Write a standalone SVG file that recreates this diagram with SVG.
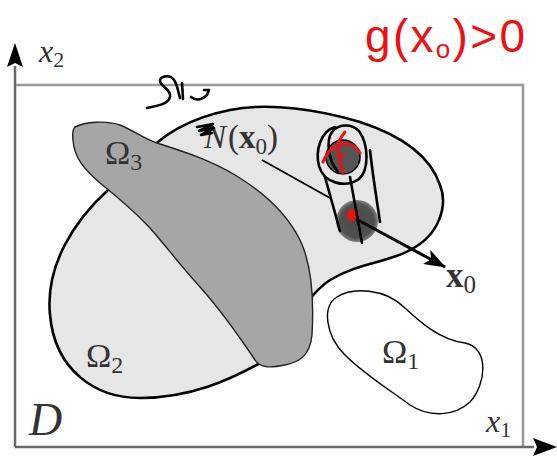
<svg xmlns="http://www.w3.org/2000/svg" width="557" height="458" viewBox="0 0 557 458">
<defs>
<style>
.axis{stroke:#6a6a6a;stroke-width:2.5;fill:none}
.frame{stroke:#9a9a9a;stroke-width:2.5;fill:none}
.lbl{font-family:"Liberation Serif",serif;fill:#333}
.ink{fill:none;stroke:#000;stroke-width:2.6;stroke-linecap:round;stroke-linejoin:round}
.red{fill:none;stroke:#ee1111;stroke-width:3;stroke-linecap:round;stroke-linejoin:round}
</style>
<radialGradient id="nb" cx="0.5" cy="0.5" r="0.5">
<stop offset="0" stop-color="#4a4a4a"/>
<stop offset="0.8" stop-color="#505050"/>
<stop offset="1" stop-color="#666" stop-opacity="0.8"/>
</radialGradient>
<marker id="ah" viewBox="0 0 22 16" refX="21" refY="8" markerWidth="22" markerHeight="16" markerUnits="userSpaceOnUse" orient="auto">
<path d="M0,0 L22,8 L0,16 L5,8 Z" fill="#000"/>
</marker>
</defs>
<rect width="557" height="458" fill="#fff"/>

<g id="frame">
<path class="frame" d="M15,85 H523 V447"/>
</g>
<g id="axes">
<path class="axis" d="M15,447 V66"/>
<path class="axis" d="M15,447 H534"/>
<path d="M15,43 L23,67 L15,63 L7,67 Z" fill="#000"/>
<path d="M557,447 L533,438 L537,447 L533,456 Z" fill="#000"/>
<text class="lbl" x="39" y="62" font-size="32" font-style="italic">x<tspan font-size="22" font-style="normal" dy="5">2</tspan></text>
<text class="lbl" x="486" y="432" font-size="32" font-style="italic">x<tspan font-size="22" font-style="normal" dy="5">1</tspan></text>
<text class="lbl" x="29" y="435" font-size="46" font-style="italic" fill="#111">D</text>
</g>

<g id="omega2">
<path d="M108,190 C75,220 45,265 50,315 C55,370 95,398 140,398 C190,398 230,380 262,362 C285,345 300,300 330,280 C360,262 390,262 410,250 C440,235 448,205 440,185 C430,155 400,135 360,122 C320,110 270,102 230,110 C190,118 160,135 140,160 C125,175 115,182 108,190 Z" fill="#e6e6e6" stroke="#000" stroke-width="2.6"/>
<text class="lbl" x="86" y="367" font-size="34">Ω<tspan font-size="24" dy="6">2</tspan></text>
</g>

<g id="omega3">
<path d="M75,127 C85,122 105,120 120,125 C135,131 145,140 160,144 C185,152 210,160 235,175 C260,190 285,210 300,240 C312,265 314,300 312,335 C310,355 300,362 285,365 C270,368 260,368 255,360 C245,345 225,315 200,287 C180,265 165,245 150,228 C135,212 115,195 100,183 C85,170 74,158 73,140 C72,132 73,129 75,127 Z" fill="#a6a6a6" stroke="#222" stroke-width="1.4"/>
<text class="lbl" x="105" y="164" font-size="34">Ω<tspan font-size="24" dy="6">3</tspan></text>
</g>

<g id="omega1">
<path d="M337,297 C352,287 385,288 405,308 C420,322 440,340 465,343 C490,348 486,385 470,402 C455,416 430,418 410,405 C390,390 365,375 345,355 C325,335 322,306 337,297 Z" fill="#fff" stroke="#000" stroke-width="1.4"/>
<text class="lbl" x="382" y="363" font-size="34">Ω<tspan font-size="24" dy="6">1</tspan></text>
</g>

<g id="neighborhood">
<text class="lbl" x="204" y="148" font-size="33" fill="#555"><tspan font-style="italic">N</tspan><tspan dx="2">(</tspan><tspan font-weight="bold">x</tspan><tspan font-size="23" dy="6">0</tspan><tspan dy="-6">)</tspan></text>
<circle cx="357" cy="221" r="21" fill="url(#nb)"/>
<circle cx="353" cy="215" r="6" fill="#ee1111"/>
</g>

<g id="x0">
<text class="lbl" x="446" y="287" font-size="35" font-weight="bold" fill="#111">x<tspan font-size="25" font-weight="normal" dy="6">0</tspan></text>
</g>

<g id="connectors">
<path d="M262,160 L330,198" stroke="#000" stroke-width="1.8" fill="none"/>
<path d="M356,219 L445,267" stroke="#000" stroke-width="3" fill="none" marker-end="url(#ah)"/>
</g>

<g id="annotations">
<circle cx="343" cy="157" r="17" fill="#555" stroke="#000" stroke-width="1.5"/>
<path class="ink" d="M335,127 C321,131 315,150 319,166 C324,184 346,188 359,179 C369,170 369,145 359,131 C351,123 338,124 332,132 C326,140 328,160 338,172"/>
<path class="ink" d="M325,177 L340,231"/>
<path class="ink" d="M350,177 L362,243"/>
<path class="ink" d="M370,150 C372,170 376,195 380,222"/>
<path class="red" d="M323,162 C328,150 334,145 342,144 C350,143 357,146 360,153"/>
<path class="red" d="M345,132 C340,138 337,143 338,150 C339,158 341,165 343,173"/>
<circle cx="343" cy="155" r="2" fill="#ee1111"/>
<path class="ink" d="M197,127 L213,124 L199,131 L214,128 L201,135 L212,133"/>
<path class="ink" d="M147,108 C155,106 168,105 170,97 C172,90 160,86 160,81 C160,76 170,74 174,80 C178,86 178,92 180,98"/>
<path class="ink" d="M182,83 L183,99"/>
<path class="ink" d="M191,97 C196,101 202,100 207,95 L209,90 L204,90"/>
<text x="365" y="52" font-family="Liberation Sans, sans-serif" font-size="46" fill="#ee1111" textLength="160" lengthAdjust="spacing">g(x<tspan font-size="26" dy="6">o</tspan><tspan dy="-6">)&gt;0</tspan></text>
</g>
</svg>
